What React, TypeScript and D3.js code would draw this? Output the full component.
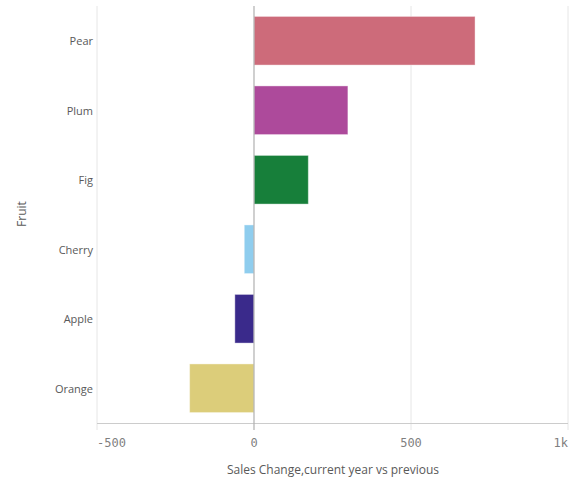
import React from "react";
import * as d3 from "d3";

const categories = ["Pear", "Plum", "Fig", "Cherry", "Apple", "Orange"];
const values = [704, 299, 173, -31, -61, -205];
const colors = ["#cd6b7a", "#ad4a9b", "#177f3a", "#8fcdee", "#3a2a8b", "#dccd7a"];
const tickValues = [-500, 0, 500, 1000];
const tickLabels = ["-500", "0", "500", "1k"];
const xTitle = "Sales Change,current year vs previous";
const yTitle = "Fruit";

const W = 580;
const H = 482;

export default function App() {
  const x = d3.scaleLinear().domain([-500, 1000]).range([97, 568]);
  const y = d3
    .scaleBand<string>()
    .domain(categories)
    .range([6, 423])
    .paddingInner(0.3)
    .paddingOuter(0.15);

  const labelFont = "'Open Sans', 'Noto Sans', sans-serif";
  const monoFont = "'DejaVu Sans Mono', monospace";

  return (
    <svg
      width={W}
      height={H}
      style={{ position: "absolute", left: 0, top: 0, background: "#fff" }}
    >
      {/* gridlines */}
      {tickValues.map((t) =>
        t === 0 ? null : (
          <line
            key={"g" + t}
            x1={x(t)}
            x2={x(t)}
            y1={6}
            y2={430}
            stroke="#e6e6e6"
            strokeWidth={1}
          />
        )
      )}
      {/* bottom axis */}
      <line x1={97} x2={568} y1={423.5} y2={423.5} stroke="#cccccc" strokeWidth={1} />
      {/* bars */}
      {categories.map((c, i) => {
        const v = values[i];
        const x0 = x(Math.min(0, v));
        const x1 = x(Math.max(0, v));
        return (
          <rect
            key={c}
            x={x0}
            y={y(c)}
            width={x1 - x0}
            height={y.bandwidth()}
            fill={colors[i]}
            stroke="#ffffff"
            strokeOpacity={0.4}
            strokeWidth={1}
          />
        );
      })}
      {/* zero line */}
      <line x1={x(0)} x2={x(0)} y1={6} y2={430} stroke="#b0b0b0" strokeWidth={1.2} />
      {/* category labels */}
      {categories.map((c) => (
        <text
          key={"l" + c}
          x={93}
          y={(y(c) as number) + y.bandwidth() / 2}
          textAnchor="end"
          dominantBaseline="central"
          fontFamily={labelFont}
          fontSize={11}
          fill="#595959"
        >
          {c}
        </text>
      ))}
      {/* tick labels */}
      {tickValues.map((t, i) => (
        <text
          key={"t" + t}
          x={x(t)}
          y={443}
          textAnchor={i === 0 ? "start" : i === tickValues.length - 1 ? "end" : "middle"}
          dominantBaseline="central"
          fontFamily={monoFont}
          fontSize={12}
          fill="#7f7f7f"
        >
          {tickLabels[i]}
        </text>
      ))}
      {/* axis titles */}
      <text
        x={333}
        y={469}
        textAnchor="middle"
        dominantBaseline="central"
        fontFamily={labelFont}
        fontSize={12}
        fill="#595959"
      >
        {xTitle}
      </text>
      <text
        transform={`translate(21,214) rotate(-90)`}
        textAnchor="middle"
        dominantBaseline="central"
        fontFamily={labelFont}
        fontSize={12}
        fill="#595959"
      >
        {yTitle}
      </text>
    </svg>
  );
}
